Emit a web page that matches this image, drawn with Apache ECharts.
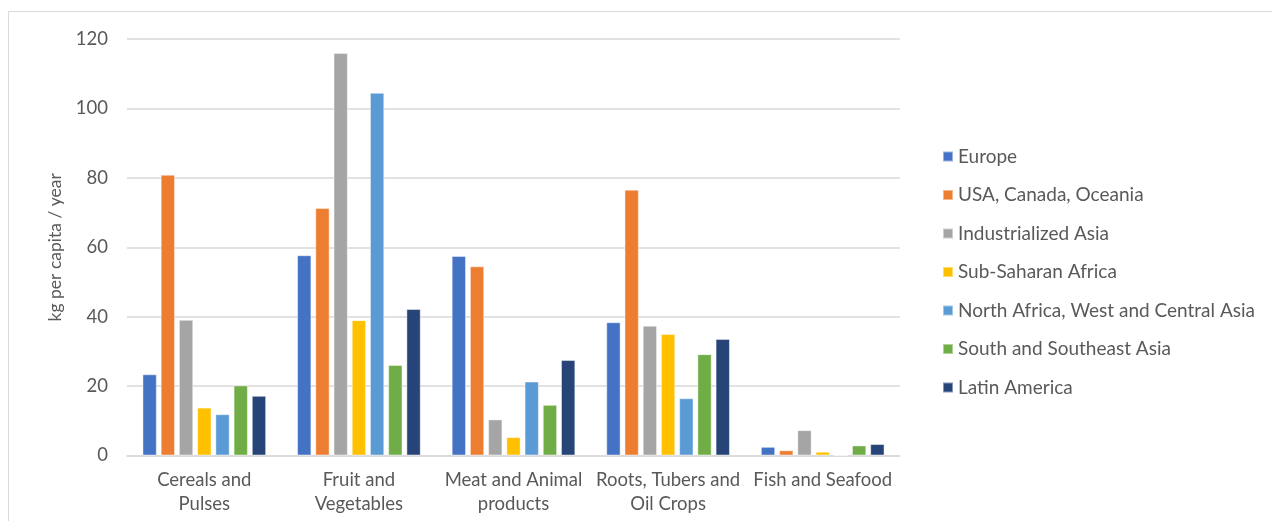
<!DOCTYPE html>
<html>
<head>
<meta charset="utf-8">
<script src="https://cdn.jsdelivr.net/npm/echarts@6/dist/echarts.min.js"></script>
<style>
html,body{margin:0;padding:0;background:#fff;}
#frame{position:absolute;left:8px;top:11px;width:1300px;height:600px;border-top:1px solid #d9d9d9;border-left:1px solid #d9d9d9;}
#chart{position:absolute;left:0;top:0;width:1272px;height:521px;}
</style>
</head>
<body>
<div id="frame"></div>
<div id="chart"></div>
<script>
const categories = ['Cereals and\nPulses', 'Fruit and\nVegetables', 'Meat and Animal\nproducts', 'Roots, Tubers and\nOil Crops', 'Fish and Seafood'];
const seriesNames = ['Europe', 'USA, Canada, Oceania', 'Industrialized Asia', 'Sub-Saharan Africa', 'North Africa, West and Central Asia', 'South and Southeast Asia', 'Latin America'];
const europe = [23.4, 57.7, 57.5, 38.4, 2.5];
const usaCanadaOceania = [80.9, 71.3, 54.5, 76.6, 1.5];
const industrializedAsia = [39.1, 116.0, 10.4, 37.4, 7.3];
const subSaharanAfrica = [13.8, 39.0, 5.3, 35.0, 1.1];
const northAfricaWCAsia = [11.9, 104.5, 21.3, 16.5, 0];
const southSoutheastAsia = [20.2, 26.1, 14.6, 29.2, 2.9];
const latinAmerica = [17.2, 42.2, 27.5, 33.6, 3.3];
const yTicks = [0, 20, 40, 60, 80, 100, 120];

const values = [europe, usaCanadaOceania, industrializedAsia, subSaharanAfrica, northAfricaWCAsia, southSoutheastAsia, latinAmerica];
const colors = ['#4472C4', '#ED7D31', '#A5A5A5', '#FFC000', '#5B9BD5', '#70AD47', '#264478'];
const FONT = 'Lato';
const TXT = '#595959';

const chart = echarts.init(document.getElementById('chart'));
chart.setOption({
  animation: false,
  color: colors,
  grid: {left: 127, right: 372, top: 39, bottom: 65.5, containLabel: false},
  legend: {
    orient: 'vertical', left: 937, top: 142,
    itemWidth: 10, itemHeight: 10, itemGap: 19.5,
    icon: 'rect',
    textStyle: {fontFamily: FONT, fontSize: 19, color: TXT, lineHeight: 18.5},
    data: seriesNames
  },
  xAxis: {
    type: 'category', data: categories,
    axisLine: {lineStyle: {color: '#d9d9d9', width: 1.5}},
    axisTick: {show: false},
    axisLabel: {fontFamily: FONT, fontSize: 18.5, color: TXT, lineHeight: 23.5, margin: 13, interval: 0}
  },
  yAxis: {
    type: 'value', min: yTicks[0], max: yTicks[yTicks.length-1], interval: 20,
    name: 'kg per capita / year', nameLocation: 'middle', nameGap: 63, nameRotate: 90,
    nameTextStyle: {fontFamily: FONT, fontSize: 17.5, color: TXT},
    axisLine: {show: false}, axisTick: {show: false},
    axisLabel: {fontFamily: FONT, fontSize: 18.5, color: TXT, margin: 19},
    splitLine: {lineStyle: {color: '#d9d9d9', width: 1.5}}
  },
  series: seriesNames.map((n, i) => ({
    name: n, type: 'bar', data: values[i],
    barGap: '27%', barCategoryGap: '20%',
    itemStyle: {borderColor: 'rgba(255,255,255,0.45)', borderWidth: 1}
  }))
});
</script>
</body>
</html>
